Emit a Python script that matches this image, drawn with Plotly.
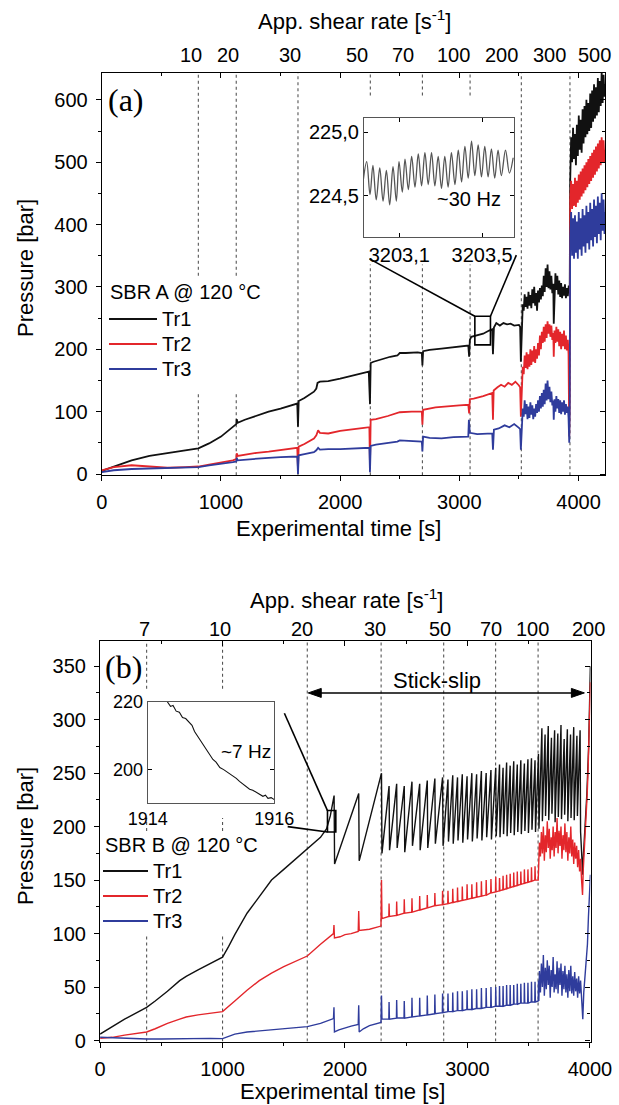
import plotly.graph_objects as go

W, H = 619, 1105
FONT = "Liberation Sans, Arial, sans-serif"
SERIF = "Liberation Serif, Times New Roman, serif"
BLACK, RED, BLUE = "#111111", "#e3262b", "#2f3c9c"


def px(x):
    return x / W


def py(y):
    return 1 - y / H


# ======================= Panel (a) data (time [s], pressure [bar]) =======================
a_tr1 = [(0, 5), (100, 12), (250, 22), (400, 29), (550, 34), (700, 38), (810, 41), (900, 49), (1000, 60),
         (1100, 75), (1128, 80), (1132, 88), (1140, 82), (1200, 87), (1300, 94), (1400, 100), (1500, 105),
         (1600, 111), (1640, 113), (1646, 76), (1652, 117), (1700, 122), (1780, 132), (1800, 137), (1810, 146),
         (1830, 148), (1900, 149), (2000, 153), (2100, 158), (2200, 162), (2240, 164), (2250, 112), (2256, 178),
         (2280, 180), (2350, 184), (2420, 188), (2480, 190), (2500, 194), (2550, 194), (2650, 195), (2685, 194),
         (2690, 174), (2696, 197), (2750, 199), (2850, 201), (2950, 203), (3060, 205), (3075, 206), (3082, 188),
         (3088, 215), (3100, 220), (3150, 222), (3200, 225), (3250, 230), (3275, 232), (3282, 192), (3290, 235),
         (3310, 242), (3340, 238), (3370, 242), (3400, 240), (3430, 241), (3460, 238), (3500, 239), (3510, 236),
         (3516, 180), (3524, 250), (3532, 272), (3540, 262), (3548, 288), (3556, 268), (3564, 284), (3572, 265),
         (3580, 292), (3588, 270), (3596, 287), (3604, 266), (3612, 296), (3620, 274), (3628, 300), (3636, 270),
         (3644, 290), (3652, 262), (3660, 294), (3668, 275), (3676, 298), (3684, 280), (3692, 302), (3700, 285),
         (3708, 318), (3716, 292), (3724, 330), (3732, 300), (3740, 336), (3748, 298), (3756, 325), (3764, 296),
         (3772, 318), (3780, 290), (3788, 305), (3792, 241), (3798, 298), (3806, 322), (3814, 295), (3822, 318),
         (3830, 288), (3838, 310), (3846, 284), (3854, 306), (3862, 282), (3870, 300), (3878, 286), (3886, 304),
         (3894, 282), (3902, 298), (3910, 285), (3918, 302), (3926, 296),
         (3930, 470), (3938, 540), (3946, 500), (3954, 555), (3962, 505), (3970, 545), (3978, 495), (3986, 560),
         (3994, 510), (4002, 575), (4010, 520), (4018, 568), (4026, 515), (4034, 585), (4042, 530), (4050, 590),
         (4058, 540), (4066, 600), (4074, 545), (4082, 595), (4090, 550), (4098, 610), (4106, 555), (4114, 615),
         (4122, 565), (4130, 625), (4138, 570), (4146, 620), (4154, 575), (4162, 635), (4170, 580), (4178, 630),
         (4186, 590), (4194, 645), (4202, 595), (4210, 640), (4218, 605), (4222, 625)]

a_tr2 = [(0, 6), (100, 11), (250, 14), (400, 12), (550, 10), (700, 11), (810, 12), (900, 15), (1000, 18),
         (1100, 22), (1128, 24), (1132, 33), (1140, 29), (1200, 31), (1300, 34), (1400, 36), (1500, 38),
         (1600, 40), (1640, 42), (1646, 7), (1652, 44), (1700, 48), (1780, 57), (1800, 62), (1815, 70),
         (1830, 66), (1900, 65), (2000, 69), (2100, 72), (2200, 74), (2245, 75), (2250, 12), (2256, 87),
         (2300, 88), (2400, 93), (2480, 97), (2500, 99), (2600, 100), (2685, 100), (2690, 79), (2696, 103),
         (2800, 107), (2900, 109), (3000, 110), (3075, 111), (3082, 97), (3088, 120), (3120, 121), (3200, 125),
         (3250, 128), (3276, 130), (3282, 87), (3288, 134), (3320, 139), (3350, 143), (3380, 140), (3410, 146),
         (3440, 143), (3470, 148), (3500, 142), (3510, 139),
         (3516, 92), (3524, 150), (3532, 172), (3540, 160), (3548, 190), (3556, 170), (3564, 195), (3572, 168),
         (3580, 192), (3588, 172), (3596, 200), (3604, 175), (3612, 198), (3620, 180), (3628, 205), (3636, 178),
         (3644, 200), (3652, 185), (3660, 210), (3668, 190), (3676, 222), (3684, 200), (3692, 228), (3700, 210),
         (3708, 236), (3716, 212), (3724, 240), (3732, 218), (3740, 245), (3748, 225), (3756, 240), (3764, 220),
         (3772, 238), (3780, 215), (3788, 226), (3792, 188), (3798, 230), (3806, 210), (3814, 236), (3822, 212),
         (3830, 232), (3838, 205), (3846, 228), (3854, 200), (3862, 225), (3870, 205), (3878, 230), (3886, 200),
         (3894, 222), (3902, 198), (3910, 215), (3916, 192), (3922, 60), (3926, 120),
         (3930, 440), (3938, 470), (3946, 425), (3954, 465), (3962, 430), (3970, 475), (3978, 428), (3986, 470),
         (3994, 435), (4002, 480), (4010, 440), (4018, 485), (4026, 445), (4034, 490), (4042, 450), (4050, 495),
         (4058, 455), (4066, 500), (4074, 460), (4082, 505), (4090, 465), (4098, 510), (4106, 470), (4114, 515),
         (4122, 475), (4130, 520), (4138, 480), (4146, 525), (4154, 485), (4162, 530), (4170, 490), (4178, 535),
         (4186, 495), (4194, 540), (4202, 500), (4210, 535), (4218, 500), (4222, 520)]

a_tr3 = [(0, 3), (100, 6), (250, 8), (400, 9), (550, 9), (700, 10), (810, 11), (900, 14), (1000, 16),
         (1100, 19), (1128, 20), (1132, 26), (1140, 22), (1200, 23), (1300, 25), (1400, 26), (1500, 27),
         (1600, 28), (1640, 28), (1646, 0), (1652, 30), (1700, 32), (1780, 35), (1800, 38), (1815, 42),
         (1830, 39), (1900, 40), (2000, 40), (2100, 41), (2200, 42), (2245, 42), (2250, 3), (2256, 45),
         (2300, 47), (2400, 50), (2480, 52), (2500, 54), (2600, 53), (2685, 52), (2690, 36), (2696, 60),
         (2750, 58), (2850, 57), (2950, 59), (3075, 60), (3080, 87), (3088, 66), (3150, 64), (3200, 64),
         (3276, 65), (3282, 39), (3290, 71), (3330, 73), (3380, 78), (3420, 75), (3460, 80), (3500, 74),
         (3510, 72),
         (3516, 39), (3524, 85), (3532, 105), (3540, 92), (3548, 118), (3556, 96), (3564, 112), (3572, 88),
         (3580, 108), (3588, 90), (3596, 115), (3604, 95), (3612, 110), (3620, 88), (3628, 105), (3636, 92),
         (3644, 112), (3652, 98), (3660, 118), (3668, 100), (3676, 125), (3684, 105), (3692, 130), (3700, 108),
         (3708, 135), (3716, 112), (3724, 145), (3732, 118), (3740, 150), (3748, 120), (3756, 140), (3764, 115),
         (3772, 132), (3780, 110), (3788, 118), (3792, 87), (3798, 120), (3806, 100), (3814, 125), (3822, 105),
         (3830, 120), (3838, 98), (3846, 118), (3854, 96), (3862, 115), (3870, 100), (3878, 118), (3886, 95),
         (3894, 112), (3902, 98), (3910, 108), (3916, 90), (3922, 50), (3926, 100),
         (3930, 380), (3938, 420), (3946, 350), (3954, 410), (3962, 345), (3970, 415), (3978, 355), (3986, 405),
         (3994, 345), (4002, 420), (4010, 360), (4018, 410), (4026, 350), (4034, 425), (4042, 365), (4050, 415),
         (4058, 355), (4066, 430), (4074, 370), (4082, 420), (4090, 360), (4098, 435), (4106, 375), (4114, 425),
         (4122, 365), (4130, 440), (4138, 380), (4146, 430), (4154, 370), (4162, 445), (4170, 385), (4178, 435),
         (4186, 375), (4194, 450), (4202, 390), (4210, 440), (4218, 385), (4222, 420)]

# zoomed signal of Tr1 around 3203 s (~30 Hz)
a_inset = [(3202.927, 224.63), (3202.943, 224.77), (3202.959, 224.51), (3202.973, 224.74), (3202.989, 224.47),
           (3203.006, 224.72), (3203.022, 224.46), (3203.038, 224.70), (3203.054, 224.43), (3203.070, 224.73),
           (3203.086, 224.46), (3203.099, 224.77), (3203.115, 224.53), (3203.128, 224.79), (3203.144, 224.55),
           (3203.160, 224.81), (3203.176, 224.57), (3203.192, 224.83), (3203.208, 224.58), (3203.224, 224.84),
           (3203.240, 224.59), (3203.256, 224.84), (3203.272, 224.58), (3203.288, 224.81), (3203.304, 224.56),
           (3203.320, 224.81), (3203.336, 224.57), (3203.352, 224.84), (3203.369, 224.59), (3203.385, 224.86),
           (3203.401, 224.61), (3203.417, 224.89), (3203.433, 224.64), (3203.449, 224.93), (3203.465, 224.66),
           (3203.481, 224.90), (3203.497, 224.65), (3203.513, 224.89), (3203.529, 224.65), (3203.545, 224.87),
           (3203.561, 224.64), (3203.577, 224.86), (3203.593, 224.66), (3203.613, 224.86), (3203.632, 224.68),
           (3203.650, 224.80)]

a_steps = [810, 1128, 1646, 2253, 2690, 3090, 3520, 3928]
a_top_labels = ["10", "20", "30", "50", "70", "100", "200", "300", "500"]
a_top_label_t = [750, 1055, 1580, 2144, 2530, 2955, 3355, 3755, 4135]

# ======================= Panel (b) data =======================
b_tr1_start = [(0, 6), (100, 13), (200, 20), (300, 26), (380, 31), (450, 37), (550, 46), (650, 56), (703, 60),
               (800, 66), (900, 72), (1000, 78), (1050, 88), (1100, 99), (1200, 119), (1300, 135), (1400, 150),
               (1500, 160), (1600, 170), (1692, 179), (1800, 190), (1850, 198), (1880, 210)]
b_slip_t = [1911, 2112, 2298,
            2360, 2422, 2484, 2547, 2610, 2672, 2734, 2797,
            2841, 2880, 2919, 2958, 2997, 3036, 3075, 3114, 3153, 3192, 3231,
            3262, 3291, 3320, 3349, 3378, 3407, 3436, 3465, 3494, 3523, 3552, 3580,
            3608, 3634, 3660, 3686, 3712, 3738, 3764, 3790, 3816, 3842, 3868, 3894, 3920]
b_tr1_peak = [229, 231, 250,
              238, 240, 238, 242, 240, 243, 245, 246,
              244, 248, 246, 249, 247, 250, 249, 252, 250, 253, 255,
              258, 255, 260, 257, 261, 258, 262, 259, 263, 264, 262, 268,
              292, 286, 294, 283, 290, 287, 295, 282, 291, 286, 293, 285, 290]
b_tr1_trough = [165, 168, 175,
                178, 180, 176, 182, 178, 180, 184, 182,
                186, 184, 187, 185, 188, 186, 189, 187, 190, 188, 191,
                190, 193, 191, 194, 192, 195, 193, 196, 194, 197, 195, 198,
                205, 210, 206, 212, 204, 209, 207, 211, 205, 208, 206, 210, 195]
b_tr1_end = [(3935, 170), (3940, 155), (3948, 175), (3960, 200), (3975, 230), (3990, 275), (3998, 310),
             (4004, 350)]

b_tr2_start = [(0, 2), (100, 3), (200, 5), (300, 7), (380, 8), (450, 11), (550, 16), (650, 20), (703, 22),
               (800, 24), (900, 25.5), (1000, 27), (1100, 37), (1200, 47), (1300, 56), (1400, 63), (1500, 69),
               (1600, 74), (1692, 79), (1800, 90), (1880, 98), (1906, 100), (1910, 108), (1914, 96), (1960, 97),
               (2000, 99), (2050, 100), (2108, 102), (2112, 121), (2116, 103), (2200, 104), (2260, 106),
               (2294, 107), (2298, 150), (2302, 114)]
b_tr3_start = [(0, 3), (100, 2.5), (200, 2), (380, 1.5), (500, 1.5), (700, 2), (900, 2), (1000, 1.8),
               (1050, 4), (1100, 6), (1200, 8), (1300, 9), (1400, 10), (1500, 10.5), (1600, 11.5), (1692, 13),
               (1800, 16), (1880, 19), (1906, 20.5), (1910, 31), (1914, 8), (1950, 10), (2000, 12), (2050, 13.5),
               (2108, 15), (2112, 33), (2116, 8), (2150, 11), (2200, 14), (2260, 16), (2294, 17), (2298, 42),
               (2302, 20)]
b_spike_t = [2360, 2422, 2484, 2547, 2610, 2672, 2734, 2797,
             2841, 2880, 2919, 2958, 2997, 3036, 3075, 3114, 3153, 3192, 3231,
             3262, 3291, 3320, 3349, 3378, 3407, 3436, 3465, 3494, 3523, 3552, 3580]
b_tr2_base = [116, 117, 119, 120, 122, 124, 126, 127,
              128, 129, 130, 131, 132, 133, 134, 135, 136, 138, 139,
              140, 141, 142, 143, 144, 145, 146, 147, 148, 149, 150, 150]
b_tr2_spike = [128, 130, 132, 133, 135, 136, 138, 140,
               140, 142, 143, 144, 146, 146, 148, 149, 150, 151, 153,
               152, 154, 155, 156, 157, 158, 158, 160, 160, 162, 163, 165]
b_tr3_base = [20, 21, 21, 22, 23, 24, 25, 26,
              27, 27, 28, 28, 29, 29, 30, 30, 31, 31, 32,
              32, 32, 33, 33, 34, 34, 35, 35, 35, 36, 36, 37]
b_tr3_spike = [36, 38, 37, 40, 40, 42, 43, 44,
               44, 45, 46, 46, 47, 48, 48, 49, 49, 50, 50,
               51, 51, 52, 52, 52, 53, 53, 54, 54, 55, 55, 56]
b_tr2_end = [(3588, 185), (3596, 172), (3604, 195), (3612, 175), (3620, 200), (3628, 168), (3636, 192),
             (3644, 176), (3652, 205), (3660, 180), (3668, 198), (3676, 170), (3684, 190), (3692, 178),
             (3700, 200), (3708, 172), (3716, 195), (3724, 180), (3732, 208), (3740, 175), (3748, 196),
             (3756, 182), (3764, 200), (3772, 170), (3780, 192), (3788, 178), (3796, 203), (3804, 176),
             (3812, 195), (3820, 168), (3828, 190), (3836, 175), (3844, 200), (3852, 172), (3860, 188),
             (3868, 165), (3876, 185), (3884, 170), (3892, 182), (3900, 162), (3908, 178), (3916, 158),
             (3924, 170), (3932, 150), (3940, 136), (3946, 160), (3954, 175), (3962, 195), (3970, 215),
             (3978, 230), (3986, 255), (3992, 290), (3998, 320), (4004, 335)]
b_tr3_end = [(3588, 65), (3596, 45), (3604, 72), (3612, 50), (3620, 80), (3628, 42), (3636, 68), (3644, 48),
             (3652, 75), (3660, 52), (3668, 70), (3676, 40), (3684, 66), (3692, 50), (3700, 78), (3708, 45),
             (3716, 62), (3724, 48), (3732, 74), (3740, 44), (3748, 68), (3756, 52), (3764, 72), (3772, 42),
             (3780, 65), (3788, 48), (3796, 70), (3804, 45), (3812, 62), (3820, 40), (3828, 66), (3836, 46),
             (3844, 70), (3852, 44), (3860, 60), (3868, 42), (3876, 64), (3884, 46), (3892, 58), (3900, 40),
             (3908, 60), (3916, 44), (3924, 56), (3932, 35), (3942, 20), (3950, 45), (3960, 60), (3970, 70),
             (3980, 90), (3988, 115), (3996, 140), (4004, 155)]

# zoomed signal of Tr1 around 1915 s (~7 Hz)
b_inset = [(1914.31, 220.0), (1914.36, 218.6), (1914.40, 218.9), (1914.45, 217.2), (1914.50, 216.9),
           (1914.55, 215.3), (1914.60, 215.0), (1914.66, 213.6), (1914.70, 213.0), (1914.74, 211.2),
           (1914.78, 210.0), (1914.82, 208.8), (1914.86, 207.6), (1914.90, 206.5), (1914.94, 205.2),
           (1914.98, 204.4), (1915.03, 202.9), (1915.08, 202.1), (1915.14, 200.5), (1915.20, 199.9),
           (1915.27, 199.0), (1915.33, 198.3), (1915.40, 197.3), (1915.45, 196.4), (1915.50, 195.6),
           (1915.55, 194.9), (1915.61, 194.1), (1915.66, 193.8), (1915.71, 193.2), (1915.76, 192.6),
           (1915.82, 192.0), (1915.86, 192.3), (1915.90, 191.4), (1915.95, 191.6), (1916.0, 191.0)]

b_steps = [380, 1000, 1692, 2295, 2806, 3230, 3577]
b_top_labels = ["7", "10", "20", "30", "50", "70", "100", "200"]
b_top_label_t = [366, 979, 1650, 2245, 2775, 3195, 3530, 3985]

series_names = ["Tr1", "Tr2", "Tr3"]

# ---------- assemble panel (b) series from the read peaks/troughs ----------
SLIP = 4
b_tr1 = list(b_tr1_start)
for t, pk, tr in zip(b_slip_t, b_tr1_peak, b_tr1_trough):
    b_tr1 += [(t, pk), (t + SLIP, tr)]
b_tr1 += b_tr1_end

b_tr2 = list(b_tr2_start)
b_tr3 = list(b_tr3_start)
for t, b2, s2, b3, s3 in zip(b_spike_t, b_tr2_base, b_tr2_spike, b_tr3_base, b_tr3_spike):
    b_tr2 += [(t - 2, b2), (t, s2), (t + 3, b2)]
    b_tr3 += [(t - 2, b3), (t, s3), (t + 3, b3)]
b_tr2 += b_tr2_end
b_tr3 += b_tr3_end

# ======================= figure =======================
fig = go.Figure()


def add(tp, color, xa, ya, width, shape="linear"):
    t, p = zip(*tp)
    fig.add_trace(go.Scatter(x=list(t), y=list(p), mode="lines",
                             line=dict(color=color, width=width, shape=shape),
                             xaxis=xa, yaxis=ya, showlegend=False, hoverinfo="skip"))


for s, c in zip([a_tr1, a_tr2, a_tr3], [BLACK, RED, BLUE]):
    add(s, c, "x", "y", 1.8)
for s, c in zip([b_tr1, b_tr2, b_tr3], [BLACK, RED, BLUE]):
    add(s, c, "x2", "y2", 1.4)
add(a_inset, "#555555", "x5", "y5", 1.3, "spline")
add(b_inset, BLACK, "x6", "y6", 1.1)
for xa, ya in [("x3", "y3"), ("x4", "y4")]:
    fig.add_trace(go.Scatter(x=[None], y=[None], mode="lines", xaxis=xa, yaxis=ya,
                             showlegend=False, hoverinfo="skip"))

# ---------- geometry ----------
A_X = [px(101.8), px(605)]
A_Y = [py(475.25), py(73)]
A_XR = [0, 4222]
A_YR = [-2, 643]
B_X = [px(100.1), px(590.5)]
B_Y = [py(1041.6), py(640.5)]
B_XR = [0, 4005]
B_YR = [-1, 374]

base = dict(showline=True, linecolor="black", linewidth=1.3, showgrid=False, zeroline=False,
            automargin=False, tickcolor="black", tickwidth=1.2,
            tickfont=dict(family=FONT, size=20, color="black"))
bx = dict(base, ticks="outside", ticklen=5, dtick=1000, tick0=0, ticklabelstandoff=4,
          minor=dict(dtick=500, tick0=0, ticks="outside", ticklen=3))
topx = dict(base, side="top", ticks="inside", ticklen=5, dtick=1000, tick0=0, showticklabels=False,
            minor=dict(dtick=500, tick0=0, ticks="inside", ticklen=3))

fig.update_layout(
    width=W, height=H, margin=dict(l=0, r=0, t=0, b=0, autoexpand=False),
    paper_bgcolor="white", plot_bgcolor="rgba(0,0,0,0)", showlegend=False,
    font=dict(family=FONT, color="black"),
    xaxis=dict(bx, domain=A_X, range=A_XR, anchor="y"),
    yaxis=dict(base, domain=A_Y, range=A_YR, anchor="x", ticks="outside", ticklen=5, dtick=100, tick0=0,
               ticklabelstandoff=4, minor=dict(dtick=50, tick0=0, ticks="outside", ticklen=3)),
    xaxis3=dict(topx, overlaying="x", anchor="y", range=A_XR),
    yaxis3=dict(base, overlaying="y", anchor="x", side="right", range=A_YR, ticks="inside", ticklen=5,
                dtick=100, tick0=0, showticklabels=False,
                minor=dict(dtick=50, tick0=0, ticks="inside", ticklen=3)),
    xaxis2=dict(bx, domain=B_X, range=B_XR, anchor="y2"),
    yaxis2=dict(base, domain=B_Y, range=B_YR, anchor="x2", ticks="outside", ticklen=5, dtick=50, tick0=0,
                ticklabelstandoff=4, minor=dict(dtick=25, tick0=0, ticks="outside", ticklen=3)),
    xaxis4=dict(topx, overlaying="x2", anchor="y2", range=B_XR),
    yaxis4=dict(base, overlaying="y2", anchor="x2", side="right", range=B_YR, ticks="inside", ticklen=5,
                dtick=50, tick0=0, showticklabels=False,
                minor=dict(dtick=25, tick0=0, ticks="inside", ticklen=3)),
    xaxis5=dict(base, domain=[px(364), px(514)], range=[3202.93, 3203.654], anchor="y5",
                linecolor="#555555", linewidth=1, ticks="inside", ticklen=4, mirror="ticks",
                tickvals=[3203.1, 3203.5], ticktext=["3203,1", "3203,5"]),
    yaxis5=dict(base, domain=[py(237), py(118)], range=[224.178, 225.112], anchor="x5",
                linecolor="#555555", linewidth=1, ticks="inside", ticklen=4, mirror="ticks",
                tickvals=[224.5, 225.0], ticktext=["224,5", "225,0"]),
    xaxis6=dict(base, domain=[px(147.7), px(274.3)], range=[1914, 1916], anchor="y6",
                linecolor="#555555", linewidth=1, ticks="inside", ticklen=4, mirror="ticks",
                tickvals=[1914, 1916], tickfont=dict(family=FONT, size=18, color="black")),
    yaxis6=dict(base, domain=[py(802.7), py(701.7)], range=[190.1, 220], anchor="x6",
                linecolor="#555555", linewidth=1, ticks="inside", ticklen=4, mirror="ticks",
                tickvals=[200, 220], tickfont=dict(family=FONT, size=18, color="black")),
)

shapes = []
dot = dict(color="#555555", width=1.1, dash="dot")
a_segs = [[(-2, 131), (318, 643)], [(-2, 131), (318, 643)], [(-2, 643)],
          [(-2, 336), (607, 643)], [(-2, 336), (607, 643)], [(-2, 336), (607, 643)],
          [(-2, 643)], [(-2, 643)]]
for t, segs in zip(a_steps, a_segs):
    for y0, y1 in segs:
        shapes.append(dict(type="line", xref="x", yref="y", x0=t, x1=t, y0=y0, y1=y1, line=dot, layer="below"))
b_segs = [[(-1, 100), (196, 208), (329, 374)], [(-1, 100), (196, 208), (329, 374)], [(-1, 374)],
          [(-1, 374)], [(-1, 374)], [(-1, 374)], [(-1, 374)]]
for t, segs in zip(b_steps, b_segs):
    for y0, y1 in segs:
        shapes.append(dict(type="line", xref="x2", yref="y2", x0=t, x1=t, y0=y0, y1=y1, line=dot, layer="below"))

call = dict(color="black", width=1.6)
ARROW_P = 325
ARROW_T = (1700, 3955)
shapes += [
    dict(type="rect", xref="x", yref="y", x0=3130, x1=3261, y0=207, y1=253, line=call),
    dict(type="line", xref="x", yref="y", x0=2246, y0=345, x1=3130, y1=253, line=call),
    dict(type="line", xref="x", yref="y", x0=3478, y0=351, x1=3261, y1=253, line=call),
    dict(type="rect", xref="x2", yref="y2", x0=1857, x1=1925, y0=195, y1=215, line=call),
    dict(type="line", xref="x2", yref="y2", x0=1505, y0=306, x1=1857, y1=215, line=call),
    dict(type="line", xref="x2", yref="y2", x0=1532, y0=200, x1=1857, y1=195, line=call),
    # double-headed "Stick-slip" arrow: shaft + two pixel-sized heads
    dict(type="line", xref="x2", yref="y2", x0=ARROW_T[0] + 40, y0=ARROW_P, x1=ARROW_T[1] - 40, y1=ARROW_P,
         line=dict(color="black", width=1.5)),
    dict(type="path", xref="x2", yref="y2", xsizemode="pixel", ysizemode="pixel", xanchor=ARROW_T[1],
         yanchor=ARROW_P, path="M0,0 L-13,4.5 L-13,-4.5 Z", fillcolor="black", line=dict(color="black", width=1)),
    dict(type="path", xref="x2", yref="y2", xsizemode="pixel", ysizemode="pixel", xanchor=ARROW_T[0],
         yanchor=ARROW_P, path="M0,0 L13,4.5 L13,-4.5 Z", fillcolor="black", line=dict(color="black", width=1)),
]

ann = []
for (tx, ty, title, rows, x0, x1) in [(108, 292, "SBR A @ 120 °C", [319, 344, 369], 109, 157),
                                      (103, 845, "SBR B @ 120 °C", [871, 896, 921], 103, 148)]:
    ann.append(dict(text=title, x=px(tx), y=py(ty), xref="paper", yref="paper", xanchor="left",
                    yanchor="middle", showarrow=False, font=dict(size=20)))
    for name, c, ry in zip(series_names, [BLACK, RED, BLUE], rows):
        shapes.append(dict(type="line", xref="paper", yref="paper", x0=px(x0), x1=px(x1), y0=py(ry),
                           y1=py(ry), line=dict(color=c, width=2)))
        ann.append(dict(text=name, x=px(x1 + 3), y=py(ry), xref="paper", yref="paper", xanchor="left",
                        yanchor="middle", showarrow=False, font=dict(size=20)))

for lab, t in zip(a_top_labels, a_top_label_t):
    ann.append(dict(text=lab, x=t, y=py(55), xref="x", yref="paper", showarrow=False,
                    xanchor="center", yanchor="middle", font=dict(size=20)))
for lab, t in zip(b_top_labels, b_top_label_t):
    ann.append(dict(text=lab, x=t, y=py(629), xref="x2", yref="paper", showarrow=False,
                    xanchor="center", yanchor="middle", font=dict(size=20)))

for (txt, x, y, ang) in [("App. shear rate [s<sup>-1</sup>]", 354, 20, 0),
                         ("Experimental time [s]", 338, 528, 0),
                         ("App. shear rate [s<sup>-1</sup>]", 346, 599, 0),
                         ("Experimental time [s]", 342, 1091, 0),
                         ("Pressure [bar]", 25, 268, -90),
                         ("Pressure [bar]", 25, 836, -90)]:
    ann.append(dict(text=txt, x=px(x), y=py(y), xref="paper", yref="paper", showarrow=False,
                    xanchor="center", yanchor="middle", textangle=ang, font=dict(size=22)))

ann.append(dict(text="(a)", x=px(106), y=py(100), xref="paper", yref="paper", showarrow=False,
                xanchor="left", yanchor="middle", font=dict(family=SERIF, size=32)))
ann.append(dict(text="(b)", x=px(103), y=py(667), xref="paper", yref="paper", showarrow=False,
                xanchor="left", yanchor="middle", font=dict(family=SERIF, size=32)))

ann.append(dict(text="~30 Hz", x=3203.436, y=224.476, xref="x5", yref="y5", showarrow=False,
                font=dict(size=20)))
ann.append(dict(text="~7 Hz", x=1915.56, y=205.2, xref="x6", yref="y6", showarrow=False,
                font=dict(size=19)))

ann.append(dict(text="Stick-slip", x=2752, y=337, xref="x2", yref="y2", showarrow=False,
                font=dict(size=22)))

fig.update_layout(shapes=shapes, annotations=ann)
fig.write_html("out.html")
